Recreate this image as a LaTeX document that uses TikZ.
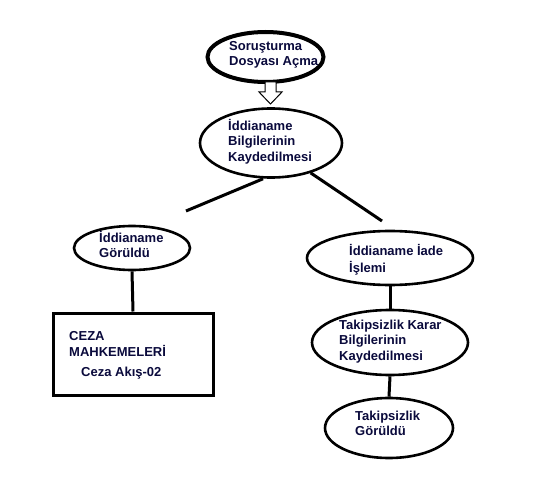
\documentclass[tikz,border=0pt]{standalone}
\usepackage{fontspec}
\setmainfont{Liberation Sans}
\usetikzlibrary{shapes.geometric}
\definecolor{inkblue}{RGB}{10,10,60}
\begin{document}
\begin{tikzpicture}[x=1pt,y=-1pt,
  oval/.style={draw=black,ellipse,inner sep=0pt,line width=2.6pt},
  box/.style={draw=black,rectangle,inner sep=0pt,line width=3pt},
  link/.style={draw=black,line width=3pt},
  txt/.style={anchor=north west,inner sep=0pt,align=left,text=inkblue,
    font=\bfseries\fontsize{13}{15.5}\selectfont}
]
\useasboundingbox[fill=white] (0,0) rectangle (538,500);

% outlines
\node[oval,line width=4pt,minimum width=116pt,minimum height=50pt] (start) at (265.5,57) {};
\node[oval,minimum width=142pt,minimum height=69pt] (record) at (271,143) {};
\node[oval,minimum width=116pt,minimum height=44pt] (seen) at (132,248) {};
\node[box,minimum width=160pt,minimum height=82pt] (court) at (133,354) {};
\node[oval,minimum width=166pt,minimum height=54pt] (ret) at (390,258) {};
\node[oval,minimum width=156pt,minimum height=65pt] (nopros) at (390,342.5) {};
\node[oval,minimum width=128pt,minimum height=60pt] (noseen) at (389,428) {};

% labels
\node[txt] (tstart) at (229,39) {\strut Soruşturma\\Dosyası Açma};
\node[txt] (trecord) at (228,119) {\strut İddianame\\Bilgilerinin\\Kaydedilmesi};
\node[txt] (tseen) at (99,231) {\strut İddianame\\Görüldü};
\node[txt] (tcourt) at (69,329) {\strut CEZA\\MAHKEMELERİ};
\node[txt] (tflow) at (81,365) {\strut Ceza Akış-02};
\node[txt] (tret) at (349,244) {\strut İddianame İade\\İşlemi};
\node[txt] (tnopros) at (339,318) {\strut Takipsizlik Karar\\Bilgilerinin\\Kaydedilmesi};
\node[txt] (tnoseen) at (355,409) {\strut Takipsizlik\\Görüldü};

% hollow block arrow
\draw[black,line width=1pt,fill=white]
  (265,82) -- (276,82) -- (276,92) -- (282,92) -- (270.5,104) -- (259,92) -- (265,92) -- cycle;

% free ends of the split lines
\coordinate (lend) at (186,211);
\coordinate (rend) at (382,221);
\draw[link] (record.south) ++(-8,0) -- (lend);
\draw[link] (record.-37) -- (rend);
\draw[link] (seen.south) -- (court.north);
\draw[link] (ret.south) -- (nopros.north);
\draw[link] (nopros.south) -- (noseen.north);
\end{tikzpicture}
\end{document}
